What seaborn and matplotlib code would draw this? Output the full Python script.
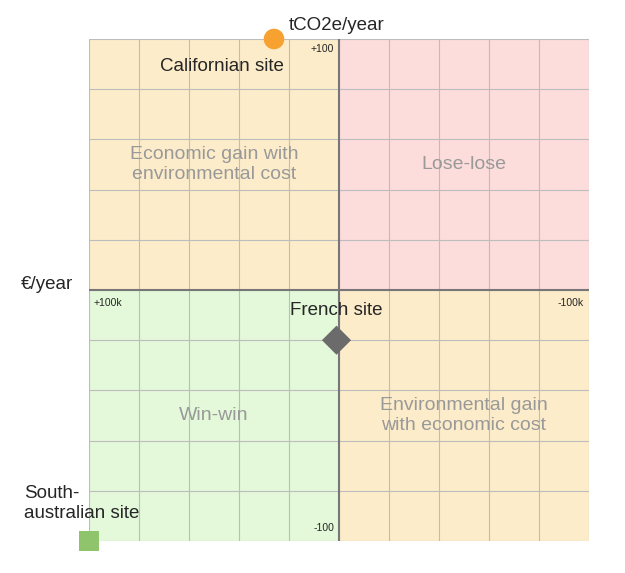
import matplotlib
matplotlib.use('Agg')
import matplotlib.pyplot as plt
import seaborn as sns
import pandas as pd

# site positions: cost (k€/year, positive = gain) and emissions (tCO2e/year)
sites = ['Californian site', 'French site', 'South-\naustralian site']
euros = [26, 1, 100]
co2 = [100, -20, -100]
markers = ['o', 'D', 's']
colours = ['#f7a131', '#6b6b6b', '#8fc46c']

quadrants = [
    ('Economic gain with\nenvironmental cost', 50, 50, '#fcecc9'),
    ('Lose-lose', -50, 50, '#fddcdc'),
    ('Win-win', 50, -50, '#e3f9d9'),
    ('Environmental gain\nwith economic cost', -50, -50, '#fcecc9'),
]

sns.set_style('white')
plt.rcParams['font.family'] = ['Liberation Sans', 'DejaVu Sans']

fig = plt.figure(figsize=(6.25, 5.73), dpi=100)
ax = fig.add_axes([89 / 625, 32 / 573, 500 / 625, 502 / 573])

for label, cx, cy, col in quadrants:
    ax.fill_between([cx - 50, cx + 50], cy - 50, cy + 50, color=col, zorder=0, lw=0)
    ax.text(cx, cy, label, ha='center', va='center', fontsize=14, color='#999999', zorder=3)

for v in range(-100, 101, 20):
    ax.axvline(v, color='#bdbdbd', lw=0.8, zorder=1)
    ax.axhline(v, color='#bdbdbd', lw=0.8, zorder=1)
ax.axvline(0, color='#777777', lw=1.5, zorder=2)
ax.axhline(0, color='#777777', lw=1.5, zorder=2)

df = pd.DataFrame({'site': sites, 'euros': euros, 'co2': co2})
for i, row in df.iterrows():
    sns.scatterplot(x=[row.euros], y=[row.co2], marker=markers[i], color=colours[i],
                    s=220, ax=ax, zorder=5, clip_on=False, edgecolor='none')

ax.text(47, 89, sites[0], ha='center', va='center', fontsize=13.5)
ax.text(1, -8, sites[1], ha='center', va='center', fontsize=13.5)
ax.text(126, -85, sites[2], ha='left', va='center', fontsize=13.5, clip_on=False)

ax.text(98, -3, '+100k', fontsize=7.5, va='top', ha='left')
ax.text(-98, -3, '-100k', fontsize=7.5, va='top', ha='right')
ax.text(2, 98, '+100', fontsize=7.5, va='top', ha='right')
ax.text(2, -97, '-100', fontsize=7.5, va='bottom', ha='right')
ax.text(20, 102, 'tCO2e/year', fontsize=13.5, va='bottom', ha='left', clip_on=False)
ax.text(117, 2, '€/year', fontsize=13.5, va='center', ha='center', clip_on=False)

ax.set_xlim(100, -100)
ax.set_ylim(-100, 100)
ax.set_xticks([])
ax.set_yticks([])
for s in ax.spines.values():
    s.set_visible(False)

fig.savefig('out.png', dpi=100)
